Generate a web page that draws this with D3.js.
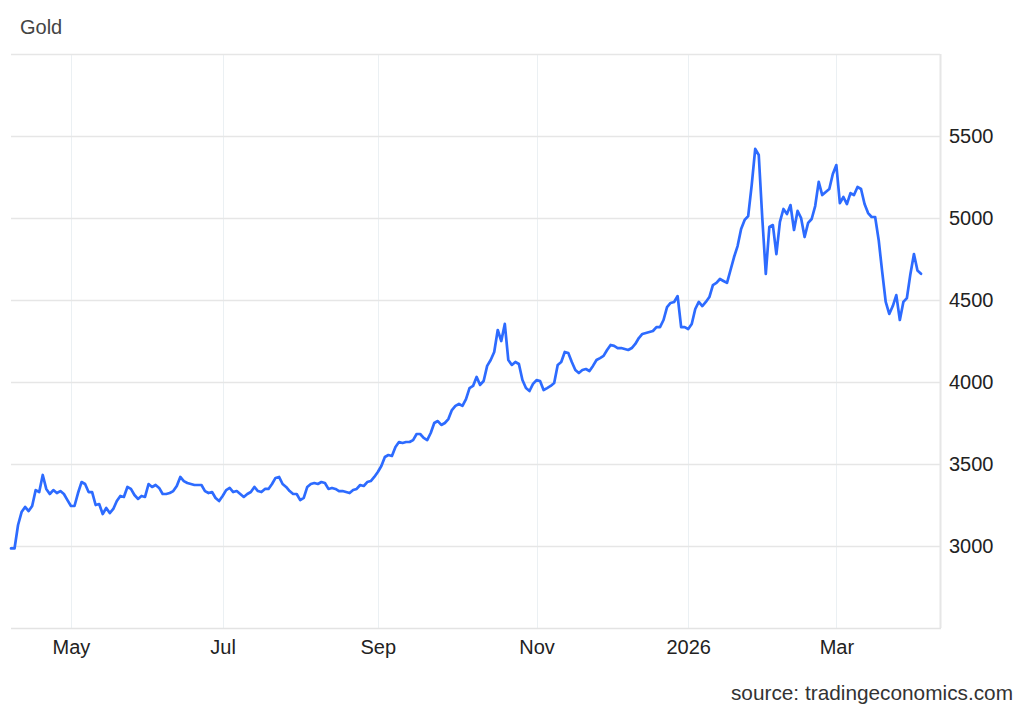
<!DOCTYPE html>
<html>
<head>
<meta charset="utf-8">
<script src="https://cdn.jsdelivr.net/npm/d3@7"></script>
<style>
  html, body { margin: 0; padding: 0; background: #fff; }
  svg { display: block; font-family: "Liberation Sans", Arial, sans-serif; }
</style>
</head>
<body>
<svg id="chart" width="1024" height="710"></svg>
<script>
// ---- data ----
const title = "Gold";
const source = "source: tradingeconomics.com";
const firstTradingDay = "2025-04-08";   // series runs over weekdays (trading days)
const prices = [
  2985, 2985, 3128, 3207, 3238, 3213, 3244, 3341, 3329, 3433,
  3348, 3317, 3341, 3323, 3335, 3317, 3280, 3244, 3244, 3323,
  3390, 3378, 3329, 3329, 3250, 3256, 3195, 3232, 3201, 3226,
  3274, 3305, 3299, 3360, 3348, 3311, 3287, 3305, 3299, 3378,
  3360, 3372, 3354, 3317, 3317, 3323, 3335, 3366, 3421, 3396,
  3384, 3378, 3372, 3372, 3372, 3335, 3323, 3329, 3293, 3274,
  3305, 3341, 3354, 3329, 3335, 3317, 3299, 3317, 3329, 3360,
  3335, 3329, 3348, 3348, 3378, 3415, 3421, 3378, 3360, 3335,
  3317, 3317, 3280, 3293, 3360, 3378, 3384, 3378, 3390, 3384,
  3348, 3354, 3348, 3335, 3335, 3329, 3323, 3341, 3348, 3372,
  3366, 3390, 3396, 3421, 3451, 3488, 3543, 3555, 3549, 3604,
  3634, 3628, 3634, 3634, 3646, 3683, 3683, 3659, 3646, 3689,
  3750, 3762, 3738, 3750, 3774, 3829, 3854, 3866, 3854, 3896,
  3963, 3976, 4031, 3982, 4006, 4098, 4134, 4183, 4317, 4250,
  4354, 4134, 4104, 4122, 4110, 4012, 3963, 3945, 3988, 4012,
  4006, 3951, 3963, 3976, 3994, 4104, 4122, 4183, 4177, 4122,
  4073, 4055, 4073, 4079, 4067, 4098, 4134, 4146, 4159, 4195,
  4226, 4220, 4207, 4207, 4201, 4195, 4207, 4232, 4268, 4293,
  4299, 4305, 4311, 4335, 4335, 4378, 4457, 4482, 4488, 4524,
  4335, 4335, 4323, 4354, 4445, 4488, 4463, 4488, 4518, 4591,
  4604, 4628, 4616, 4604, 4683, 4762, 4829, 4933, 4988, 5012,
  5201, 5421, 5384, 5000, 4659, 4945, 4957, 4780, 4976, 5055,
  5024, 5079, 4927, 5043, 5000, 4884, 4970, 4994, 5073, 5220,
  5140, 5159, 5177, 5268, 5323, 5091, 5128, 5085, 5152, 5140,
  5189, 5177, 5085, 5030, 5006, 5006, 4866, 4671, 4488, 4415,
  4463, 4530, 4378, 4488, 4512, 4659, 4780, 4680, 4660
];
const xTickDates  = ["2025-05-01", "2025-07-01", "2025-09-01", "2025-11-01", "2026-01-01", "2026-03-01"];
const xTickLabels = ["May", "Jul", "Sep", "Nov", "2026", "Mar"];
const yTicks = [3000, 3500, 4000, 4500, 5000, 5500];
const yDomain = [2500, 6000];

// ---- trading-day dates (weekdays) ----
const parse = d3.timeParse("%Y-%m-%d");
const dates = [];
{
  let d = parse(firstTradingDay);
  while (dates.length < prices.length) {
    const wd = d.getDay();
    if (wd !== 0 && wd !== 6) dates.push(d);
    d = d3.timeDay.offset(d, 1);
  }
}
const data = prices.map((v, i) => ({ i, date: dates[i], value: v }));
const tickIdx = xTickDates.map(s => {
  const t = parse(s);
  return dates.findIndex(d => d >= t);
});

// ---- layout ----
const M = { left: 11, right: 940, top: 54, bottom: 628, lineEnd: 921 };
const svg = d3.select("#chart");
const x = d3.scaleLinear().domain([0, prices.length - 1]).range([M.left, M.lineEnd]);
const y = d3.scaleLinear().domain(yDomain).range([M.bottom, M.top]);

// vertical grid
svg.append("g").selectAll("line").data(tickIdx).join("line")
  .attr("x1", d => Math.round(x(d)) + 0.5).attr("x2", d => Math.round(x(d)) + 0.5)
  .attr("y1", M.top).attr("y2", M.bottom)
  .attr("stroke", "#ebf0f3").attr("stroke-width", 1);

// horizontal grid (incl. top line)
svg.append("g").selectAll("line").data(yTicks.concat([yDomain[1]])).join("line")
  .attr("x1", M.left).attr("x2", M.right)
  .attr("y1", d => Math.round(y(d)) + 0.5).attr("y2", d => Math.round(y(d)) + 0.5)
  .attr("stroke", "#e6e6e6").attr("stroke-width", 1.5);

// right border
svg.append("line")
  .attr("x1", M.right + 0.5).attr("x2", M.right + 0.5).attr("y1", M.top).attr("y2", M.bottom)
  .attr("stroke", "#e6e6e6").attr("stroke-width", 2);

// bottom axis
const xAxis = d3.axisBottom(x).tickValues(tickIdx).tickFormat((d, k) => xTickLabels[k]).tickSize(0).tickPadding(12);
const gx = svg.append("g").attr("transform", `translate(0,${M.bottom})`).call(xAxis);
gx.select(".domain").remove();
gx.append("line").attr("x1", M.left).attr("x2", M.right + 1).attr("y1", 0.5).attr("y2", 0.5)
  .attr("stroke", "#e3e3e3").attr("stroke-width", 1.5);
gx.selectAll("text").attr("font-size", 20).attr("fill", "#222")
  .attr("font-family", "'Liberation Sans', Arial, sans-serif");

// right axis
const yAxis = d3.axisRight(y).tickValues(yTicks).tickFormat(d3.format("d")).tickSize(0).tickPadding(9);
const gy = svg.append("g").attr("transform", `translate(${M.right},0)`).call(yAxis);
gy.select(".domain").remove();
gy.selectAll("text").attr("font-size", 20).attr("fill", "#222")
  .attr("font-family", "'Liberation Sans', Arial, sans-serif");

// line
const line = d3.line().x(d => x(d.i)).y(d => y(d.value)).curve(d3.curveLinear);
svg.append("path").datum(data)
  .attr("d", line)
  .attr("fill", "none")
  .attr("stroke", "#2d6bff")
  .attr("stroke-width", 2.7)
  .attr("stroke-linejoin", "round")
  .attr("stroke-linecap", "round");

// title & source
svg.append("text").attr("x", 20).attr("y", 34).attr("font-size", 20).attr("fill", "#444").text(title);
svg.append("text").attr("x", 1013).attr("y", 700).attr("text-anchor", "end")
  .attr("font-size", 20.8).attr("fill", "#333").text(source);
</script>
</body>
</html>
